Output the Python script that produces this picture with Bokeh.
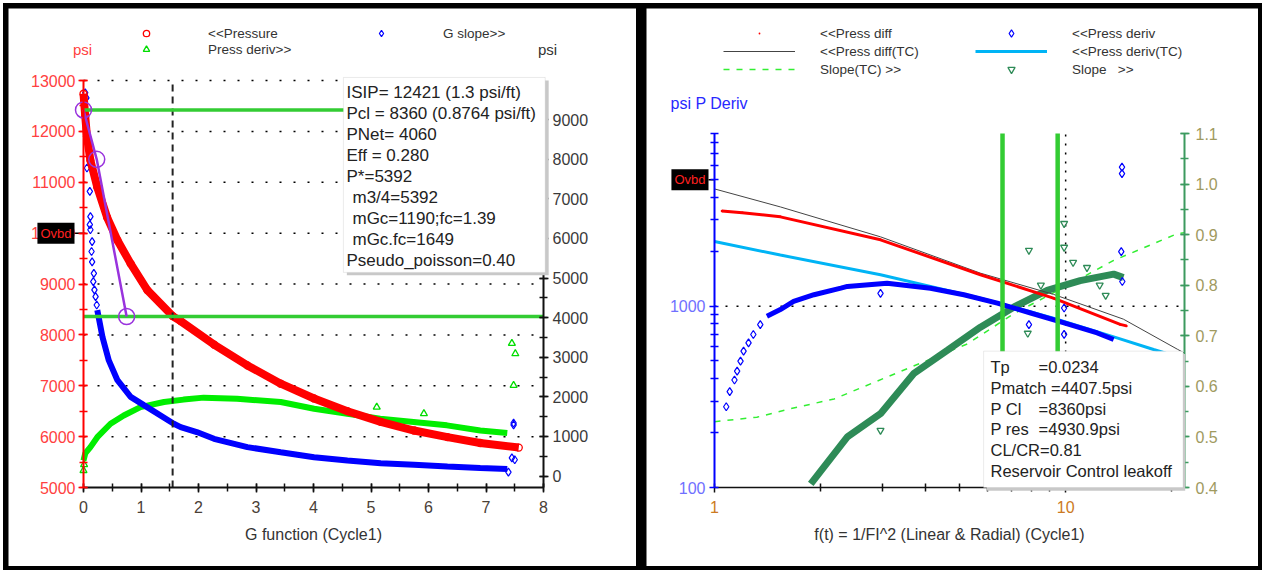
import math
from bokeh.plotting import figure
from bokeh.layouts import row
from bokeh.models import (Range1d, LinearAxis, LinearScale, SingleIntervalTicker, FixedTicker,
                          BasicTickFormatter, PrintfTickFormatter, BoxAnnotation, Label,
                          Legend, LegendItem)
from bokeh.embed import file_html
from bokeh.resources import INLINE

F = "Liberation Sans"

# ---------------- left panel data (G function plot) ----------------
press_g = [0.0, 0.03, 0.06, 0.12, 0.24, 0.41, 0.59, 0.82, 1.11, 1.55, 1.69, 2.27, 2.85, 3.43,
           4.01, 4.59, 5.17, 5.75, 6.33, 6.90, 7.57]
press_p = [12740, 12300, 11900, 11430, 10900, 10310, 9860, 9400, 8880, 8370, 8270, 7810, 7400,
           7040, 6750, 6500, 6290, 6120, 5990, 5875, 5785]

gslope_sparse_g = [0.03, 0.05, 0.06, 0.11, 0.11, 0.12, 0.12, 0.14, 0.15, 0.15, 0.17, 0.18, 0.19,
                   0.21, 0.23]
gslope_sparse_v = [9680, 9550, 7780, 7190, 6350, 6550, 6220, 5670, 5920, 5410, 4910, 5120, 4700,
                   4530, 4320]
gslope_g = [0.24, 0.33, 0.44, 0.59, 0.82, 1.05, 1.57, 1.69, 1.97, 2.27, 2.85, 3.43, 4.01, 4.59,
            5.17, 5.75, 6.33, 6.90, 7.37]
gslope_v = [4190, 3510, 2920, 2420, 2000, 1790, 1320, 1235, 1110, 940, 730, 600, 475, 390, 325,
            285, 240, 205, 180]
gslope_out_g = [7.48, 7.48, 7.45, 7.50, 7.39]
gslope_out_v = [1340, 1290, 460, 410, 100]

pderiv_g = [0.0, 0.03, 0.12, 0.24, 0.47, 0.70, 0.99, 1.40, 1.74, 2.09, 2.67, 3.43, 4.01, 4.59,
            5.16, 5.74, 6.32, 6.90, 7.37]
pderiv_v = [390, 570, 730, 980, 1320, 1530, 1740, 1870, 1930, 1980, 1950, 1870, 1700, 1575, 1450,
            1365, 1280, 1150, 1085]
pderiv_out_g = [0.0, 0.01, 5.10, 5.92, 7.45, 7.51, 7.48]
pderiv_out_v = [140, 290, 1740, 1575, 3350, 3090, 2290]

isip_p = 12421
pcl_p = 8360
closure_g = 1.55
ovbd_left = 10000
tangent_g = [0.0, 0.23, 0.75]
tangent_p = [12421, 11450, 8360]

# axis extents / ticks (left panel)
g_lim = (0, 8)
p_lim = (5000, 13000)
r_lim = (-290, 9990)
p_grid = [6000, 7000, 8000, 9000, 10000, 11000, 12000, 13000]

left_box_lines = ["ISIP= 12421 (1.3 psi/ft)", "Pcl = 8360 (0.8764 psi/ft)", "PNet= 4060",
                  "Eff = 0.280", "P*=5392", "m3/4=5392", "mGc=1190;fc=1.39", "mGc.fc=1649",
                  "Pseudo_poisson=0.40"]
left_box_indent = [0, 0, 0, 0, 0, 1, 1, 1, 0]

# ---------------- right panel data (log-log plot) ----------------
pdiff_x = [1.05, 1.2, 1.54, 2.97, 5.72, 9.23, 14.3, 14.9]
pdiff_y = [3360, 3290, 3120, 2330, 1495, 1110, 795, 780]
pdiff_tc_x = [1.0, 1.54, 2.97, 5.72, 9.23, 14.6, 20.8, 21.8]
pdiff_tc_y = [4450, 3540, 2420, 1525, 1165, 850, 580, 552]
pderiv_tc_x = [1.0, 1.54, 2.97, 5.72, 9.23, 14.0, 17.8, 19.3]
pderiv_tc_y = [2280, 1920, 1495, 1110, 860, 670, 578, 552]
pd2_sparse_x = [1.08, 1.105, 1.14, 1.16, 1.186, 1.21, 1.25, 1.29, 1.35]
pd2_sparse_y = [279, 338, 392, 439, 499, 566, 629, 699, 793]
pd2_x = [1.41, 1.54, 1.68, 1.92, 2.29, 2.39, 3.10, 4.12, 5.13, 6.39, 7.95, 9.9, 12.3, 13.7]
pd2_y = [881, 960, 1065, 1159, 1260, 1288, 1343, 1260, 1159, 1042, 919, 810, 713, 656]
pd2_out_x = [14.47, 14.47, 14.4, 14.5, 7.86, 9.9, 9.9, 2.97]
pd2_out_y = [5870, 5400, 2005, 1372, 793, 979, 700, 1180]
slope_x = [1.88, 2.39, 2.97, 3.69, 4.6, 5.72, 7.13, 8.86, 11.0, 13.7, 14.6]
slope_y = [0.407, 0.50, 0.546, 0.625, 0.671, 0.717, 0.757, 0.79, 0.809, 0.822, 0.815]
slope_out_x = [9.9, 9.9, 7.86, 2.97, 7.8, 11.5, 12.5, 10.5, 13.0, 8.5]
slope_out_y = [0.922, 0.875, 0.869, 0.513, 0.705, 0.835, 0.80, 0.845, 0.78, 0.80]
slope_tc_x = [1.0, 1.32, 1.65, 2.19, 3.54, 5.25, 7.13, 9.9, 13.7, 20.8, 21.8]
slope_tc_y = [0.530, 0.539, 0.556, 0.575, 0.635, 0.684, 0.744, 0.796, 0.849, 0.902, 0.904]
match_x = [6.61, 9.49]
ovbd_right = 5000

x2_lim = (1, 21.8)
y2_lim = (100, 9000)
s_lim = (0.4, 1.1)
x2_major = [1, 10]
x2_minor = [2, 3, 4, 5, 6, 7, 8, 9, 20]
y2_major = [100, 1000]
y2_minor = [200, 300, 400, 500, 600, 700, 800, 900, 2000, 3000, 4000, 5000, 6000, 7000, 8000, 9000]

right_box_a = ["Tp", "Pmatch =4407.5psi", "P Cl", "P res", "CL/CR=0.81", "Reservoir Control leakoff"]
right_box_b = ["=0.0234", "", "=8360psi", "=4930.9psi", "", ""]

# ---------------- geometry helpers ----------------
W1, W2, H = 628, 612, 558
PX1 = (g_lim[1] - g_lim[0]) / 460.0          # G units per pixel, left panel
DEC2 = math.log10(x2_lim[1] / x2_lim[0]) / 470.0  # decades per pixel, right panel


def canvas_range(d0, u0, d1, u1, L, log=False, flip=False):
    """Range whose value d0 sits at pixel u0 and d1 at pixel u1 of a canvas of length L."""
    if log:
        d0, d1 = math.log10(d0), math.log10(d1)
    k = (d1 - d0) / (u1 - u0)
    a, b = d0 - u0 * k, d0 + (L - u0) * k
    if flip:
        a, b = b, a
    if log:
        a, b = 10 ** a, 10 ** b
    return Range1d(a, b)


def style_axis(ax, line_color, label_color, size="16px", lw=2):
    ax.axis_line_color = line_color
    ax.axis_line_width = lw
    ax.major_tick_line_color = line_color
    ax.minor_tick_line_color = line_color
    ax.major_tick_line_width = 1.5
    ax.minor_tick_line_width = 1.5
    ax.major_tick_in = 4
    ax.major_tick_out = 5
    ax.minor_tick_in = 4
    ax.minor_tick_out = 4
    ax.major_label_text_color = label_color
    ax.major_label_text_font = F
    ax.major_label_text_font_size = size
    ax.axis_label_text_font = F
    ax.axis_label_text_font_style = "normal"
    ax.axis_label_text_font_size = "16px"
    ax.axis_label_text_color = "#333333"


def lbl(p, x, y, text, color="#222222", size="16px", align="left", baseline="middle",
        xu="data", yu="data", **kw):
    L = Label(x=x, y=y, x_units=xu, y_units=yu, text=text, text_color=color, text_font=F,
              text_font_size=size, text_align=align, text_baseline=baseline, **kw)
    p.add_layout(L)
    return L


# =================== LEFT PANEL ===================
# plot area: x 75..535 px, y 72..479 px inside the 628x558 canvas
p1 = figure(width=W1, height=H,
            x_range=canvas_range(g_lim[0], 75, g_lim[1], 535, W1),
            y_range=canvas_range(p_lim[1], 72, p_lim[0], 479, H, flip=True),
            output_backend="svg", toolbar_location=None, min_border=0, margin=(5, 5, 4, 5))
p1.title.visible = False
p1.outline_line_color = None
p1.xgrid.visible = False
p1.ygrid.visible = False
p1.extra_y_ranges = {"right": canvas_range(r_lim[1], 72, r_lim[0], 479, H, flip=True)}
ax_r1 = LinearAxis(y_range_name="right", ticker=SingleIntervalTicker(interval=1000, num_minor_ticks=2))
p1.add_layout(ax_r1, "right")

axb1 = p1.xaxis[0]
axb1.ticker = SingleIntervalTicker(interval=1, num_minor_ticks=2)
axb1.fixed_location = p_lim[0]
axb1.bounds = g_lim
axb1.axis_label = "G function (Cycle1)"
style_axis(axb1, "#111111", "#4a4036")
axb1.major_label_standoff = 8
axb1.axis_label_standoff = 10
axl1 = p1.yaxis[0]
axl1.ticker = SingleIntervalTicker(interval=1000, num_minor_ticks=2)
axl1.fixed_location = g_lim[0]
axl1.bounds = p_lim
style_axis(axl1, "#ff0000", "#ff4040")
axl1.major_label_standoff = 3
ax_r1.fixed_location = g_lim[1]
ax_r1.bounds = r_lim
style_axis(ax_r1, "#111111", "#3a3a3a")
ax_r1.major_label_standoff = 4

# dotted grid at the left-axis major ticks
p1.segment(x0=g_lim[0], x1=g_lim[1], y0=p_grid, y1=p_grid, line_color="black",
           line_width=1.5, line_dash="2 12")

# series
p1.line(pderiv_g, pderiv_v, y_range_name="right", color="#00ee00", line_width=6)
r_pd = p1.scatter(pderiv_out_g, pderiv_out_v, y_range_name="right", marker="triangle", size=7,
                  line_color="#00dd00", fill_color=None, line_width=1.3)
p1.line(gslope_g, gslope_v, y_range_name="right", color="#0000ff", line_width=6)
r_gs = p1.scatter(gslope_sparse_g, gslope_sparse_v, y_range_name="right", marker="diamond", size=8,
                  line_color="#0000ff", fill_color=None, line_width=1.2)
p1.scatter(gslope_out_g, gslope_out_v, y_range_name="right", marker="diamond", size=8,
           line_color="#0000ff", fill_color=None, line_width=1.2)
p1.line(press_g, press_p, color="#ff0000", line_width=8)
r_pr = p1.scatter(press_g, press_p, marker="circle", size=7, line_color="#ff0000",
                  fill_color=None, line_width=1.3)

p1.segment(x0=closure_g, x1=closure_g, y0=p_lim[0], y1=p_lim[1], line_color="#222222",
           line_width=2, line_dash="7 5")
p1.segment(x0=g_lim[0], x1=g_lim[1], y0=[isip_p, pcl_p], y1=[isip_p, pcl_p],
           line_color="#33cc33", line_width=3.5)
p1.line(tangent_g, tangent_p, color="#9933dd", line_width=2.5)
p1.scatter(tangent_g, tangent_p, marker="circle", size=16, line_color="#9933dd",
           fill_color=None, line_width=1.5)

# annotation box
p1.add_layout(BoxAnnotation(left=4.58, right=8.09, top=13000, bottom=9170, fill_color="#c8c8c8",
                            fill_alpha=1, line_color=None))
p1.add_layout(BoxAnnotation(left=4.52, right=8.03, top=13060, bottom=9228, fill_color="white",
                            fill_alpha=1, line_color="#bbbbbb", line_width=1))
for i, t in enumerate(left_box_lines):
    lbl(p1, 4.574 + 0.104 * left_box_indent[i], 12764 - i * 412.8, t, size="17px")

# overburden marker: connector tick + label
p1.segment(x0=g_lim[0] - 10 * PX1, x1=g_lim[0], y0=ovbd_left, y1=ovbd_left,
           line_color="black", line_width=1.5)
lbl(p1, 66, ovbd_left, "Ovbd", color="#ff2020", size="13px", align="right", xu="screen",
    background_fill_color="black", padding=3)
lbl(p1, 74, 517, "psi", color="#ff4040", size="15px", align="center", xu="screen", yu="screen")
lbl(p1, 539, 517, "psi", color="#333333", size="15px", align="center", xu="screen", yu="screen")

leg1 = Legend(items=[LegendItem(label="<<Pressure", renderers=[r_pr]),
                     LegendItem(label="G slope>>", renderers=[r_gs]),
                     LegendItem(label="Press deriv>>", renderers=[r_pd])],
              location=(118, 509), orientation="horizontal", ncols=2, glyph_width=40,
              glyph_height=16, label_standoff=42, label_width=153, label_height=16, spacing=0,
              padding=0, margin=0, border_line_color=None, background_fill_alpha=0,
              label_text_font=F, label_text_font_size="13.5px", label_text_color="#333333")
p1.add_layout(leg1)

# =================== RIGHT PANEL ===================
# plot area: x 68..538 px, y 125..479 px inside the 612x558 canvas
p2 = figure(width=W2, height=H, x_axis_type="log", y_axis_type="log",
            x_range=canvas_range(x2_lim[0], 68, x2_lim[1], 538, W2, log=True),
            y_range=canvas_range(y2_lim[1], 125, y2_lim[0], 479, H, log=True, flip=True),
            output_backend="svg", toolbar_location=None, min_border=0, margin=(5, 4, 4, 5))
p2.title.visible = False
p2.outline_line_color = None
p2.xgrid.visible = False
p2.ygrid.visible = False
p2.extra_y_ranges = {"slope": canvas_range(s_lim[1], 125, s_lim[0], 479, H, flip=True)}
p2.extra_y_scales = {"slope": LinearScale()}
ax_r2 = LinearAxis(y_range_name="slope", ticker=SingleIntervalTicker(interval=0.1, num_minor_ticks=2),
                   formatter=PrintfTickFormatter(format="%.1f"))
p2.add_layout(ax_r2, "right")

axb2 = p2.xaxis[0]
axb2.ticker = FixedTicker(ticks=x2_major, minor_ticks=x2_minor)
axb2.formatter = BasicTickFormatter()
axb2.fixed_location = y2_lim[0]
axb2.bounds = x2_lim
axb2.axis_label = "f(t) = 1/FI^2 (Linear & Radial) (Cycle1)"
style_axis(axb2, "#111111", "#cc7a22", lw=1.5)
axb2.major_label_standoff = 8
axb2.axis_label_standoff = 10
axl2 = p2.yaxis[0]
axl2.ticker = FixedTicker(ticks=y2_major, minor_ticks=y2_minor)
axl2.formatter = BasicTickFormatter()
axl2.fixed_location = x2_lim[0]
axl2.bounds = y2_lim
style_axis(axl2, "#0000ff", "#7070ff")
axl2.major_label_standoff = 4
ax_r2.fixed_location = x2_lim[1]
ax_r2.bounds = (s_lim[0] - 0.0005, s_lim[1] + 0.0005)
style_axis(ax_r2, "#3c9a5f", "#a09a60")
ax_r2.major_label_standoff = 6

# dotted grid at the major decades
p2.segment(x0=x2_lim[0], x1=x2_lim[1], y0=y2_major[1], y1=y2_major[1], line_color="black",
           line_width=1.5, line_dash="2 9")
p2.segment(x0=x2_major[1], x1=x2_major[1], y0=y2_lim[0], y1=y2_lim[1], line_color="black",
           line_width=1.5, line_dash="2 7")

r_stc = p2.line(slope_tc_x, slope_tc_y, y_range_name="slope", color="#33ee33", line_width=1.5,
                line_dash="6 7")
p2.line(slope_x, slope_y, y_range_name="slope", color="#2e8b57", line_width=7)
r_sl = p2.scatter(slope_out_x, slope_out_y, y_range_name="slope", marker="inverted_triangle",
                  size=7, line_color="#2e8b57", fill_color=None, line_width=1.3)
r_ptc = p2.line(pdiff_tc_x, pdiff_tc_y, color="#444444", line_width=1)
p2.line(pdiff_x, pdiff_y, color="#ff0000", line_width=3)
r_pdiff = p2.scatter(pdiff_x, pdiff_y, marker="dot", size=10, line_color="#ff0000",
                     fill_color="#ff0000", line_width=2)
r_dtc = p2.line(pderiv_tc_x, pderiv_tc_y, color="#00b4f5", line_width=3)
p2.line(pd2_x, pd2_y, color="#0000ff", line_width=5)
r_pd2 = p2.scatter(pd2_sparse_x, pd2_sparse_y, marker="diamond", size=8, line_color="#0000ff",
                   fill_color=None, line_width=1.2)
p2.scatter(pd2_out_x, pd2_out_y, marker="diamond", size=8, line_color="#0000ff",
           fill_color=None, line_width=1.2)

p2.segment(x0=match_x, x1=match_x, y0=y2_lim[0], y1=y2_lim[1], line_color="#33cc33",
           line_width=4.5)

p2.add_layout(BoxAnnotation(left=5.96, right=21.9, top=545, bottom=96, fill_color="#c8c8c8",
                            fill_alpha=1, line_color=None))
p2.add_layout(BoxAnnotation(left=5.84, right=21.6, top=566, bottom=100, fill_color="white",
                            fill_alpha=1, line_color="#bbbbbb", line_width=1))
right_box_y = [462, 354, 272, 211, 162, 124]
for i in range(len(right_box_a)):
    lbl(p2, 6.11, right_box_y[i], right_box_a[i], size="16.5px")
    if right_box_b[i]:
        lbl(p2, 8.375, right_box_y[i], right_box_b[i], size="16.5px")

p2.segment(x0=x2_lim[0] * 10 ** (-6 * DEC2), x1=x2_lim[0], y0=ovbd_right, y1=ovbd_right,
           line_color="black", line_width=1.5)
lbl(p2, 62, ovbd_right, "Ovbd", color="#ff2020", size="13px", align="right", xu="screen",
    background_fill_color="black", padding=3)
lbl(p2, 24, 463, "psi P Deriv", color="#2828ff", size="16px", xu="screen", yu="screen")

leg2 = Legend(items=[LegendItem(label="<<Press diff", renderers=[r_pdiff]),
                     LegendItem(label="<<Press deriv", renderers=[r_pd2]),
                     LegendItem(label="<<Press diff(TC)", renderers=[r_ptc]),
                     LegendItem(label="<<Press deriv(TC)", renderers=[r_dtc]),
                     LegendItem(label="Slope(TC) >>", renderers=[r_stc]),
                     LegendItem(label="Slope   >>", renderers=[r_sl])],
              location=(77, 488), orientation="horizontal", ncols=2, glyph_width=72,
              glyph_height=18, label_standoff=25, label_width=155, label_height=18, spacing=0,
              padding=0, margin=0, border_line_color=None, background_fill_alpha=0,
              label_text_font=F, label_text_font_size="13.5px", label_text_color="#333333")
p2.add_layout(leg2)

layout = row(p1, p2, styles={"background-color": "black", "margin-left": "3px",
                             "margin-top": "3px"})

open("out.html", "w").write(file_html(layout, INLINE))
